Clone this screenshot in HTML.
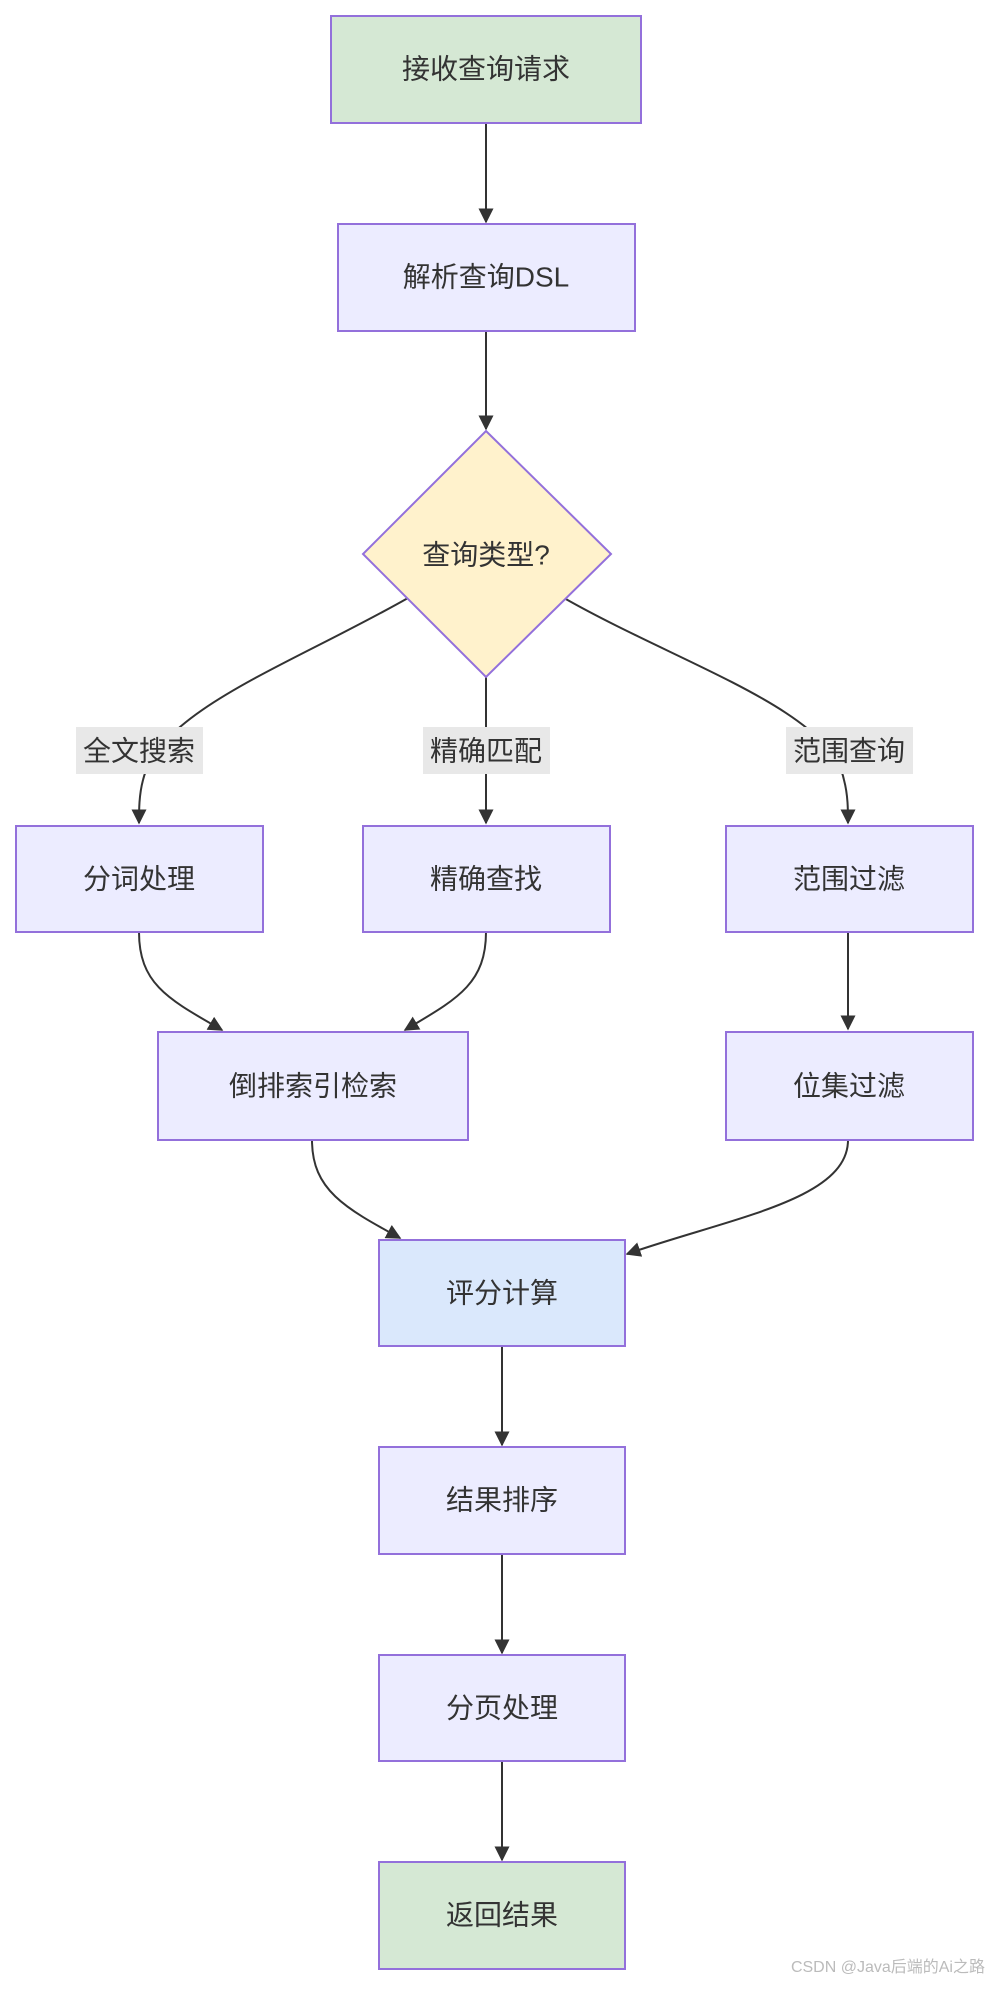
<!DOCTYPE html>
<html><head><meta charset="utf-8"><style>
html,body{margin:0;padding:0;background:#fff;}
svg{display:block;}
text{font-family:"Liberation Sans","Noto Sans CJK SC",sans-serif;fill:#333;}
</style></head><body>
<svg width="992" height="1991" viewBox="0 0 992 1991" xmlns="http://www.w3.org/2000/svg">
<defs>
<marker id="a" viewBox="0 0 10 10" refX="9" refY="5" markerWidth="15" markerHeight="15" markerUnits="userSpaceOnUse" orient="auto">
<path d="M0,0 L10,5 L0,10 z" fill="#333"/>
</marker>
</defs>
<g fill="none" stroke="#333" stroke-width="2" marker-end="url(#a)">
<path d="M486,124 L486,222" />
<path d="M486,331 L486,429" />
<path d="M408,598 C290,665 160,710 143,780 C139,795 139,810 139,823" />
<path d="M486,677 L486,823" />
<path d="M564,598 C682,665 830,710 844,780 C848,795 848,810 848,823" />
<path d="M139,932 C139,985 170,1000 222,1030" />
<path d="M486,932 C486,985 455,1000 405,1030" />
<path d="M848,932 L848,1029" />
<path d="M312,1140 C312,1190 345,1208 400,1238" />
<path d="M848,1140 C848,1200 730,1218 627,1254" />
<path d="M502,1346 L502,1445" />
<path d="M502,1554 L502,1653" />
<path d="M502,1761 L502,1860" />
</g>
<g stroke="#9370DB" stroke-width="2">
<rect x="331" y="16" width="310" height="107" fill="#D5E8D4"/>
<rect x="338" y="224" width="297" height="107" fill="#ECECFF"/>
<polygon points="486,431 611,554 486,677 363,554" fill="#FFF2CC"/>
<rect x="16" y="826" width="247" height="106" fill="#ECECFF"/>
<rect x="363" y="826" width="247" height="106" fill="#ECECFF"/>
<rect x="726" y="826" width="247" height="106" fill="#ECECFF"/>
<rect x="158" y="1032" width="310" height="108" fill="#ECECFF"/>
<rect x="726" y="1032" width="247" height="108" fill="#ECECFF"/>
<rect x="379" y="1240" width="246" height="106" fill="#DAE8FC"/>
<rect x="379" y="1447" width="246" height="107" fill="#ECECFF"/>
<rect x="379" y="1655" width="246" height="106" fill="#ECECFF"/>
<rect x="379" y="1862" width="246" height="107" fill="#D5E8D4"/>
</g>
<g fill="#e8e8e8">
<rect x="76" y="727" width="127" height="47"/>
<rect x="423" y="727" width="127" height="47"/>
<rect x="786" y="727" width="127" height="47"/>
</g>
<g font-size="28" text-anchor="middle" dominant-baseline="central">
<text x="486" y="69">接收查询请求</text>
<text x="486" y="277">解析查询DSL</text>
<text x="486" y="555">查询类型?</text>
<text x="139" y="751">全文搜索</text>
<text x="486" y="751">精确匹配</text>
<text x="849" y="751">范围查询</text>
<text x="139" y="879">分词处理</text>
<text x="486" y="879">精确查找</text>
<text x="849" y="879">范围过滤</text>
<text x="313" y="1086">倒排索引检索</text>
<text x="849" y="1086">位集过滤</text>
<text x="502" y="1293">评分计算</text>
<text x="502" y="1500">结果排序</text>
<text x="502" y="1708">分页处理</text>
<text x="502" y="1915">返回结果</text>
</g>
<text x="985" y="1972" font-size="16" text-anchor="end" style="fill:#bbb">CSDN @Java后端的Ai之路</text>
</svg>
</body></html>
